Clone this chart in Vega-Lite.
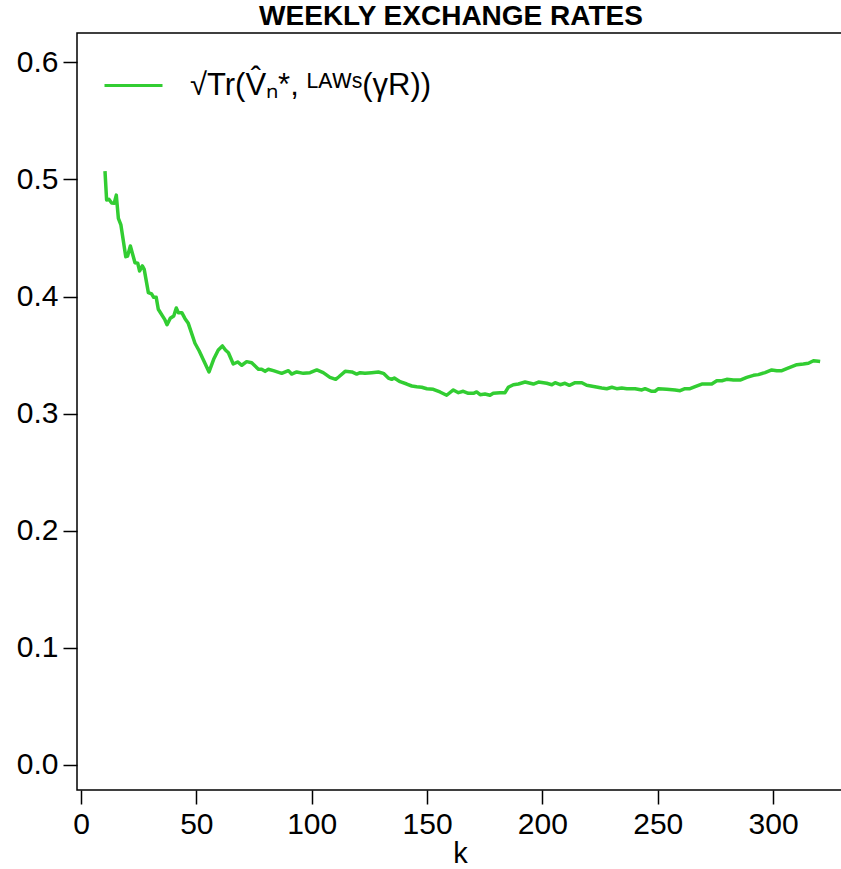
{
  "$schema": "https://vega.github.io/schema/vega-lite/v6.json",
  "autosize": "none",
  "width": 766,
  "height": 757,
  "padding": {"left": 77, "top": 33, "right": 0, "bottom": 79},
  "background": "white",
  "title": {"text": "WEEKLY EXCHANGE RATES", "font": "Liberation Sans", "fontSize": 28, "fontWeight": "bold", "color": "black", "anchor": "middle", "offset": 2, "dx": -9},
  "data": {"values": [
    {"k": 10.4, "v": 0.507}, {"k": 11.1, "v": 0.4824}, {"k": 12.1, "v": 0.483}, {"k": 13.3, "v": 0.4798}, {"k": 14.4, "v": 0.4796},
    {"k": 15.3, "v": 0.4866}, {"k": 16.2, "v": 0.4668}, {"k": 17.3, "v": 0.4611}, {"k": 19.4, "v": 0.434}, {"k": 20.2, "v": 0.4346},
    {"k": 21.4, "v": 0.4431}, {"k": 22.2, "v": 0.4374}, {"k": 23.4, "v": 0.4289}, {"k": 24.6, "v": 0.4284}, {"k": 25.4, "v": 0.4218},
    {"k": 26.6, "v": 0.4261}, {"k": 27.4, "v": 0.4232}, {"k": 29.2, "v": 0.4033}, {"k": 30.6, "v": 0.4022}, {"k": 31.5, "v": 0.3993},
    {"k": 32.6, "v": 0.3993}, {"k": 33.5, "v": 0.3891}, {"k": 36.4, "v": 0.38}, {"k": 37.3, "v": 0.3759}, {"k": 38.7, "v": 0.3814},
    {"k": 40.2, "v": 0.3834}, {"k": 41.3, "v": 0.3902}, {"k": 42.2, "v": 0.3862}, {"k": 43.7, "v": 0.3862}, {"k": 45.1, "v": 0.3811},
    {"k": 46.5, "v": 0.3771}, {"k": 49.4, "v": 0.3601}, {"k": 51.2, "v": 0.3537}, {"k": 55.5, "v": 0.3356}, {"k": 57.5, "v": 0.3464},
    {"k": 59.5, "v": 0.3543}, {"k": 61.3, "v": 0.3578}, {"k": 62.6, "v": 0.3543}, {"k": 63.9, "v": 0.352}, {"k": 66.0, "v": 0.3424},
    {"k": 67.9, "v": 0.3441}, {"k": 69.7, "v": 0.3413}, {"k": 71.8, "v": 0.3444}, {"k": 74.0, "v": 0.3435}, {"k": 76.9, "v": 0.3379},
    {"k": 78.3, "v": 0.3379}, {"k": 79.8, "v": 0.3361}, {"k": 81.2, "v": 0.3379}, {"k": 83.4, "v": 0.3367}, {"k": 87.0, "v": 0.3344},
    {"k": 89.9, "v": 0.3367}, {"k": 91.3, "v": 0.3338}, {"k": 93.5, "v": 0.3356}, {"k": 96.4, "v": 0.3344}, {"k": 99.3, "v": 0.335},
    {"k": 102.2, "v": 0.3373}, {"k": 105.0, "v": 0.335}, {"k": 107.9, "v": 0.331}, {"k": 110.4, "v": 0.3293}, {"k": 111.8, "v": 0.3315},
    {"k": 114.5, "v": 0.3361}, {"k": 117.4, "v": 0.3356}, {"k": 119.5, "v": 0.3338}, {"k": 121.0, "v": 0.335}, {"k": 123.1, "v": 0.3344},
    {"k": 126.0, "v": 0.335}, {"k": 128.9, "v": 0.3356}, {"k": 131.1, "v": 0.3344}, {"k": 133.2, "v": 0.3304}, {"k": 134.7, "v": 0.3293},
    {"k": 135.8, "v": 0.3304}, {"k": 138.3, "v": 0.3273}, {"k": 141.2, "v": 0.3253}, {"k": 143.4, "v": 0.3236}, {"k": 145.5, "v": 0.323},
    {"k": 147.7, "v": 0.3225}, {"k": 149.9, "v": 0.3213}, {"k": 152.7, "v": 0.3208}, {"k": 155.6, "v": 0.3185}, {"k": 158.5, "v": 0.3157},
    {"k": 161.4, "v": 0.3202}, {"k": 163.6, "v": 0.3179}, {"k": 165.7, "v": 0.3191}, {"k": 167.9, "v": 0.3174}, {"k": 170.1, "v": 0.3174},
    {"k": 171.5, "v": 0.3185}, {"k": 173.0, "v": 0.3162}, {"k": 175.1, "v": 0.3168}, {"k": 177.3, "v": 0.3157}, {"k": 178.7, "v": 0.3174},
    {"k": 181.6, "v": 0.3179}, {"k": 183.8, "v": 0.3179}, {"k": 185.2, "v": 0.3225}, {"k": 187.4, "v": 0.3247}, {"k": 189.6, "v": 0.3253},
    {"k": 192.5, "v": 0.327}, {"k": 196.1, "v": 0.3253}, {"k": 198.3, "v": 0.327}, {"k": 201.9, "v": 0.3259}, {"k": 204.1, "v": 0.3247},
    {"k": 205.5, "v": 0.3264}, {"k": 207.7, "v": 0.3247}, {"k": 209.8, "v": 0.3259}, {"k": 211.7, "v": 0.3242}, {"k": 214.2, "v": 0.3264},
    {"k": 217.1, "v": 0.3264}, {"k": 219.2, "v": 0.3242}, {"k": 222.8, "v": 0.323}, {"k": 225.7, "v": 0.3219}, {"k": 227.9, "v": 0.3213},
    {"k": 230.1, "v": 0.3225}, {"k": 232.2, "v": 0.3213}, {"k": 234.4, "v": 0.3219}, {"k": 236.6, "v": 0.3213}, {"k": 240.2, "v": 0.3213},
    {"k": 243.1, "v": 0.3202}, {"k": 244.5, "v": 0.3213}, {"k": 247.4, "v": 0.3191}, {"k": 248.8, "v": 0.3191}, {"k": 250.3, "v": 0.3213},
    {"k": 253.9, "v": 0.3208}, {"k": 257.5, "v": 0.3202}, {"k": 259.7, "v": 0.3196}, {"k": 261.8, "v": 0.3213}, {"k": 264.0, "v": 0.3213},
    {"k": 266.2, "v": 0.323}, {"k": 269.1, "v": 0.3253}, {"k": 271.3, "v": 0.3253}, {"k": 273.4, "v": 0.3253}, {"k": 275.6, "v": 0.3281},
    {"k": 277.8, "v": 0.3281}, {"k": 279.9, "v": 0.3293}, {"k": 282.8, "v": 0.3287}, {"k": 285.7, "v": 0.3287}, {"k": 288.6, "v": 0.331},
    {"k": 291.5, "v": 0.3327}, {"k": 293.6, "v": 0.3333}, {"k": 296.5, "v": 0.335}, {"k": 299.4, "v": 0.3373}, {"k": 301.6, "v": 0.3367},
    {"k": 303.8, "v": 0.3367}, {"k": 305.9, "v": 0.3384}, {"k": 308.1, "v": 0.3401}, {"k": 310.3, "v": 0.3418}, {"k": 313.1, "v": 0.3424},
    {"k": 315.3, "v": 0.343}, {"k": 317.5, "v": 0.3452}, {"k": 319.6, "v": 0.3447}, {"k": 320.4, "v": 0.3445}
  ]},
  "mark": {"type": "line", "strokeWidth": 3.5, "strokeJoin": "round"},
  "encoding": {
    "x": {"field": "k", "type": "quantitative",
      "scale": {"domain": [-1.734, 330.3], "nice": false, "zero": false},
      "axis": {"values": [0, 50, 100, 150, 200, 250, 300], "title": "k", "format": "d"}},
    "y": {"field": "v", "type": "quantitative",
      "scale": {"domain": [-0.02135, 0.625], "nice": false, "zero": false},
      "axis": {"values": [0, 0.1, 0.2, 0.3, 0.4, 0.5, 0.6], "title": null, "format": ".1f"}},
    "color": {"datum": "√Tr(V̂ₙ*, ᴸᴬᵂˢ(γR))", "type": "nominal",
      "scale": {"range": ["#32CD32"]},
      "legend": {"title": null, "orient": "none", "legendX": 26, "legendY": 22, "symbolType": "stroke", "symbolSize": 3364, "symbolStrokeWidth": 3, "labelFontSize": 31, "labelFont": "Liberation Sans", "labelColor": "black", "labelOffset": 26, "labelLimit": 600}}
  },
  "config": {
    "view": {"stroke": "black", "strokeWidth": 1.5},
    "axis": {"grid": false, "domain": false, "tickColor": "black", "tickWidth": 1.5, "tickSize": 14, "labelFont": "Liberation Sans", "labelFontSize": 30, "labelColor": "black", "labelPadding": 5, "titleFont": "Liberation Sans", "titleFontSize": 29, "titleFontWeight": "normal", "titleColor": "black", "titlePadding": 0, "labelFlush": false, "labelOverlap": false}
  }
}
